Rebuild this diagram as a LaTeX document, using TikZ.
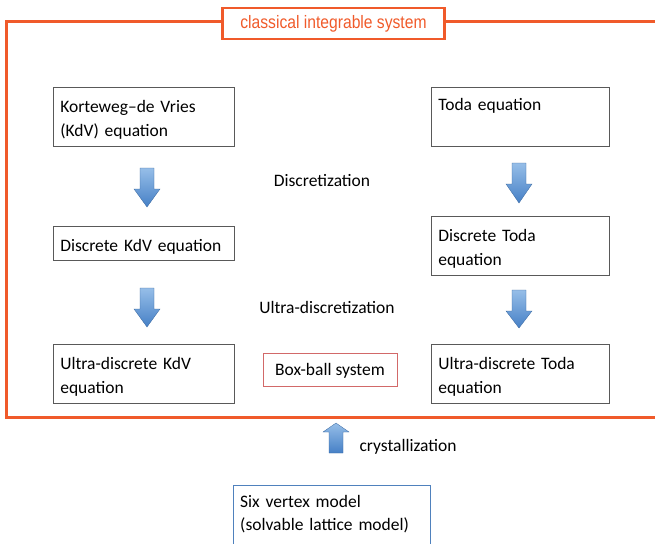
\documentclass[tikz,border=0pt]{standalone}
\usepackage{fontspec}
\setmainfont{Carlito}
\newfontfamily\titlefont{Liberation Sans}
\definecolor{frameor}{RGB}{240,90,42}
\definecolor{boxred}{RGB}{210,105,105}
\definecolor{boxblue}{RGB}{79,129,189}
\definecolor{arrlight}{RGB}{150,190,232}
\definecolor{arrdark}{RGB}{70,128,198}
\newcommand\blockarr[4]{% x, ytop, ybottom, dir (1 down, -1 up)
  \shade[top color=arrlight,bottom color=arrdark,draw=arrdark!80!black,line width=0.3pt]
    (#1-7,#2) -- (#1+7,#2) -- (#1+7,#2+#4*21) -- (#1+13,#2+#4*21) -- (#1,#3) -- (#1-13,#2+#4*21) -- (#1-7,#2+#4*21) -- cycle;}
\begin{document}
\begin{tikzpicture}[x=1pt,y=-1pt,
  eqbox/.style={draw=black!65, line width=0.6pt, anchor=north west, inner xsep=7pt, inner ysep=0pt,
    align=left, font=\fontsize{17.5}{24}\selectfont, minimum height=#1,
    execute at begin node={\rule{0pt}{19pt}}},
  eqbox/.default=59,
  lbl/.style={font=\fontsize{17.5}{24}\selectfont}]
\useasboundingbox (0,0) rectangle (655,543);
% title and frame
\node[draw=frameor, line width=2.5pt, minimum width=222, minimum height=31, inner sep=0,
  text=frameor, font=\titlefont\fontsize{18}{20}\selectfont] (title) at (333.5,23.5) {\scalebox{0.87}[1]{classical integrable system}};
\coordinate (fl) at (6,22);
\draw[frameor, line width=3pt] (title.west |- fl) -- (fl) -- (6,417) -- (670,417) -- (670,22) -- (title.east |- fl);
% left column
\node[eqbox, text width=167] (kdv) at (53,87) {Korteweg--de Vries\\(KdV) equation};
\node[eqbox=34, text width=167] (dkdv) at (53,226) {Discrete KdV equation};
\node[eqbox, text width=167] (udkdv) at (53,344) {Ultra-discrete KdV\\equation};
% right column
\node[eqbox, text width=164] (toda) at (431,87) {Toda equation\\\strut};
\node[eqbox, text width=164] (dtoda) at (431,216) {Discrete Toda\\equation};
\node[eqbox, text width=164] (udtoda) at (431,344) {Ultra-discrete Toda\\equation};
% middle
\node[lbl] (disc) at (322,181) {Discretization};
\node[lbl] (udisc) at (327,307) {Ultra-discretization};
\node[draw=boxred, line width=0.8pt, minimum width=134, minimum height=33, font=\fontsize{17.5}{24}\selectfont] (bb) at (330,369.5) {\rule{0pt}{15pt}Box-ball system};
\node[lbl, anchor=west] (cryst) at (356,447) {crystallization};
\node[anchor=north west, inner xsep=7pt, inner ysep=8pt,
  text width=183, align=left, font=\fontsize{17.5}{23}\selectfont] (six) at (233,487)
  {Six vertex model\\(solvable lattice model)};
\draw[boxblue, line width=0.8pt] (233,560) |- (430,485) -- (430,560);
% block arrows
\blockarr{147}{168}{207}{1}
\blockarr{147}{288}{327}{1}
\blockarr{519}{163}{203}{1}
\blockarr{519}{290}{328}{1}
\blockarr{336}{453}{423}{-1}
\end{tikzpicture}
\end{document}
